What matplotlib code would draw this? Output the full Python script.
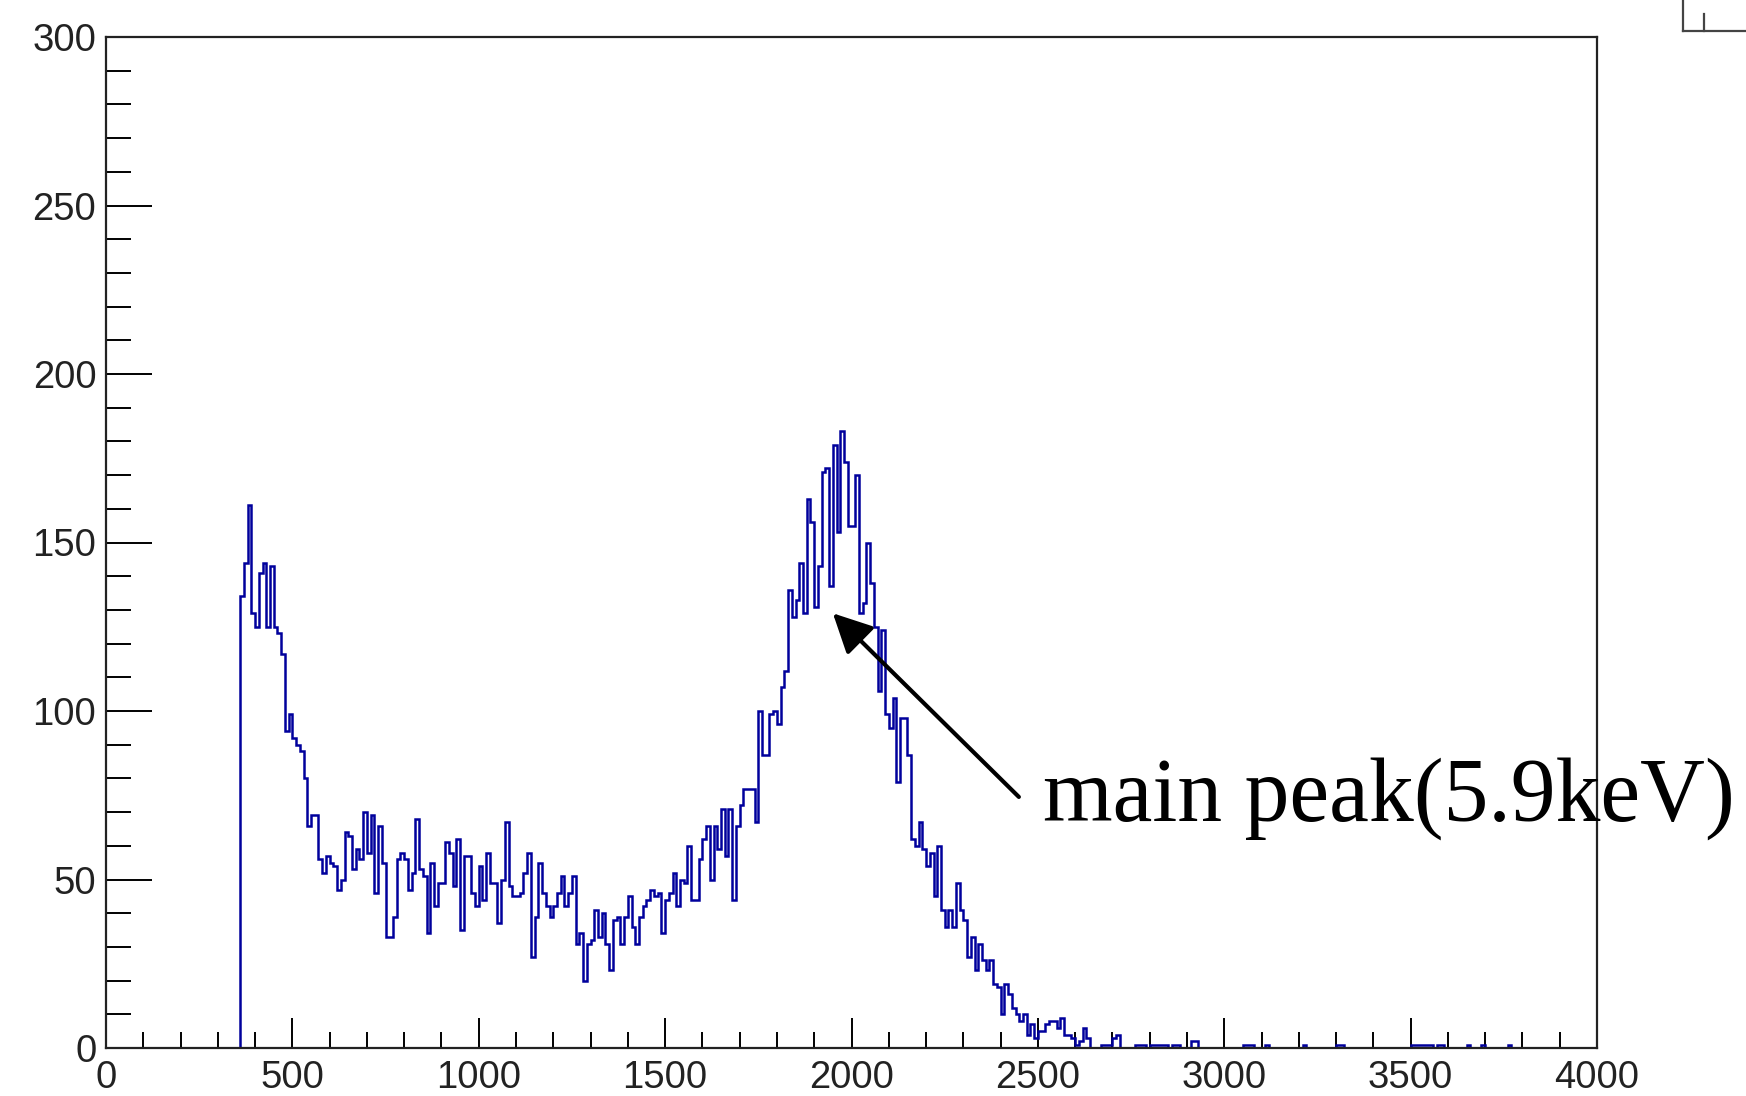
import numpy as np
import matplotlib
matplotlib.use("Agg")
import matplotlib.pyplot as plt
from matplotlib.patches import FancyArrowPatch
from matplotlib.lines import Line2D
from matplotlib.ticker import MultipleLocator

# histogram: 400 bins of width 10 from 0 to 4000
BIN_WIDTH = 10
N_BINS = 400
FIRST_BIN = 360          # lower edge of first filled bin in the dense part
dense_counts = [
    134, 144, 161, 129, 125, 141, 144, 125, 143, 125,   # 360-450
    123, 117, 94, 99, 92, 90, 88, 80, 66, 69,           # 460-550
    69, 56, 52, 57, 55, 54, 47, 50, 64, 63,             # 560-650
    53, 59, 56, 70, 58, 69, 46, 66, 55, 33,             # 660-750
    33, 39, 56, 58, 56, 47, 52, 68, 53, 51,             # 760-850
    34, 55, 42, 49, 49, 61, 58, 48, 62, 35,             # 860-950
    57, 57, 46, 42, 54, 44, 58, 49, 49, 37,             # 960-1050
    50, 67, 48, 45, 45, 46, 52, 58, 27, 39,             # 1060-1150
    55, 46, 42, 39, 42, 46, 51, 42, 46, 51,             # 1160-1250
    31, 34, 20, 31, 32, 41, 33, 40, 31, 23,             # 1260-1350
    38, 39, 31, 39, 45, 36, 31, 39, 42, 44,             # 1360-1450
    47, 45, 46, 34, 44, 46, 52, 42, 50, 49,             # 1460-1550
    60, 44, 44, 56, 62, 66, 50, 66, 59, 71,             # 1560-1650
    57, 71, 44, 66, 72, 77, 77, 77, 67, 100,            # 1660-1750
    87, 87, 99, 100, 96, 107, 112, 136, 128, 133,       # 1760-1850
    144, 129, 163, 156, 131, 143, 171, 172, 137, 179,   # 1860-1950
    153, 183, 174, 155, 155, 170, 129, 132, 150, 138,   # 1960-2050
    125, 106, 124, 99, 95, 104, 79, 98, 98, 87,         # 2060-2150
    62, 60, 67, 59, 54, 58, 45, 60, 41, 36,             # 2160-2250
    41, 36, 49, 41, 38, 27, 33, 23, 31, 26,             # 2260-2350
    23, 26, 19, 18, 10, 19, 16, 12, 10, 8,              # 2360-2450
    10, 4, 7, 3, 5, 5, 7, 8, 8, 6,                      # 2460-2550
    9, 4, 4, 3, 1, 2, 6, 3, 0, 0,                       # 2560-2650
    0, 1, 1, 1, 3, 4, 0, 0, 0, 0,                       # 2660-2750
    1, 1, 1, 0, 1, 1, 1, 1, 1, 0,                       # 2760-2850
    1, 1, 0, 0, 0, 2, 2,                                # 2860-2920
]
# sparse tail: lower bin edge -> count
tail_bins = [3050, 3060, 3070, 3110, 3210, 3300, 3310, 3500, 3510, 3520,
             3530, 3540, 3550, 3570, 3580, 3650, 3690, 3760]
tail_counts = [1, 1, 1, 1, 1, 1, 1, 1, 1, 1,
               1, 1, 1, 1, 1, 1, 1, 1]

x_ticks = [0, 500, 1000, 1500, 2000, 2500, 3000, 3500, 4000]
y_ticks = [0, 50, 100, 150, 200, 250, 300]

label_text = "main peak(5.9keV)"
arrow_tip = (1950, 129)
arrow_tail = (2449, 74.5)
label_pos = (2513, 67.4)

counts = np.zeros(N_BINS)
i0 = FIRST_BIN // BIN_WIDTH
counts[i0:i0 + len(dense_counts)] = dense_counts
for b, c in zip(tail_bins, tail_counts):
    counts[b // BIN_WIDTH] = c
edges = np.arange(N_BINS + 1) * BIN_WIDTH

W, H = 1746, 1096
fig = plt.figure(figsize=(W / 100, H / 100), dpi=100)
ax = fig.add_axes([106 / W, 1 - 1048 / H, (1597 - 106) / W, (1048 - 37) / H])

# drawn below the frame so empty bins hide under the x axis
ax.stairs(counts, edges, baseline=0, color="#00009c", lw=1.8, zorder=2)

ax.set_xlim(0, 4000)
ax.set_ylim(0, 300)
ax.set_xticks(x_ticks)
ax.set_yticks(y_ticks)
ax.set_xticklabels([str(v) for v in x_ticks])
ax.set_yticklabels([str(v) for v in y_ticks])
ax.xaxis.set_minor_locator(MultipleLocator(100))
ax.yaxis.set_minor_locator(MultipleLocator(10))

for lab in ax.get_xticklabels() + ax.get_yticklabels():
    lab.set_fontfamily("Liberation Sans")
    lab.set_fontsize(27.5)
    lab.set_color("#222222")

ax.tick_params(axis="x", which="major", direction="in", length=21.5, width=1.4, pad=9)
ax.tick_params(axis="x", which="minor", direction="in", length=11.5, width=1.4)
ax.tick_params(axis="y", which="major", direction="in", length=33, width=1.4, pad=7)
ax.tick_params(axis="y", which="minor", direction="in", length=18, width=1.4)
ax.tick_params(top=False, right=False, which="both")
for sp in ax.spines.values():
    sp.set_linewidth(1.6)
    sp.set_color("#222222")
    sp.set_zorder(2.6)

arrow = FancyArrowPatch(arrow_tail, arrow_tip,
                        arrowstyle="-|>,head_length=0.8,head_width=0.4",
                        mutation_scale=30, lw=3, color="black",
                        shrinkA=0, shrinkB=0, zorder=5, clip_on=False)
ax.add_patch(arrow)
ax.text(label_pos[0], label_pos[1], label_text, fontfamily="Liberation Serif",
        fontsize=64.5, ha="left", va="baseline", color="black", clip_on=False,
        zorder=6)

# clipped corner of a box at the top right
px = fig.transFigure.inverted()
def fpt(x, y):
    return px.transform(fig.dpi_scale_trans.transform((x / 100, (H - y) / 100)))
for (xa, ya), (xb, yb) in [((1683, 0), (1683, 31)), ((1683, 31), (1746, 31)),
                           ((1704, 14), (1704, 31))]:
    a, b = fpt(xa, ya), fpt(xb, yb)
    fig.add_artist(Line2D([a[0], b[0]], [a[1], b[1]], color="#444444", lw=1.6))

fig.savefig("out.png", dpi=100)
